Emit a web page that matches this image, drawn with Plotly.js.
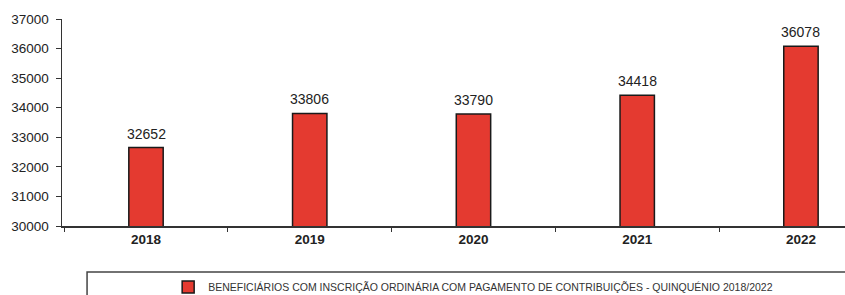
<!DOCTYPE html>
<html>
<head>
<meta charset="utf-8">
<script src="https://cdn.plot.ly/plotly-3.0.1.min.js"></script>
<style>html,body{margin:0;padding:0;background:#fff;}#chart{width:845px;height:295px;}</style>
</head>
<body>
<div id="chart"></div>
<script>
const years = ["2018", "2019", "2020", "2021", "2022"];
const beneficiarios = [32652, 33806, 33790, 34418, 36078];
const seriesName = "BENEFICIÁRIOS COM INSCRIÇÃO ORDINÁRIA COM PAGAMENTO DE CONTRIBUIÇÕES - QUINQUÉNIO 2018/2022";
const yTicks = [30000, 31000, 32000, 33000, 34000, 35000, 36000, 37000];

const FONT = "Liberation Sans, Arial, sans-serif";

const trace = {
  type: "bar",
  x: years,
  y: beneficiarios,
  name: seriesName,
  width: 0.21,
  marker: {color: "#e43a30", line: {color: "#1a1a1a", width: 1.5}},
  hoverinfo: "x+y",
  showlegend: true
};

// value labels above bars (category axis: annotation x is the category index)
const annotations = beneficiarios.map((v, i) => ({
  x: i, y: v, xref: "x", yref: "y",
  text: String(v), showarrow: false,
  yanchor: "bottom", yshift: 4,
  font: {family: FONT, size: 14, color: "#222"}
}));

const layout = {
  width: 845, height: 295,
  margin: {l: 62, r: 0, t: 19, b: 69},
  paper_bgcolor: "#fff", plot_bgcolor: "#fff",
  showlegend: true,
  legend: {
    orientation: "h", xref: "container", yref: "container",
    x: 0.199, xanchor: "left", y: 0.027, yanchor: "middle",
    bgcolor: "rgba(0,0,0,0)", borderwidth: 0, itemwidth: 30,
    font: {family: FONT, size: 10.5, color: "#333"}
  },
  xaxis: {
    type: "category", range: [-0.513, 4.269],
    showline: true, linecolor: "#333", linewidth: 1.5,
    ticks: "outside", tickson: "boundaries", ticklen: 4, tickcolor: "#333", tickwidth: 1,
    showgrid: false, zeroline: false, fixedrange: true,
    tickfont: {family: FONT, size: 13.5, color: "#222", weight: "bold"}
  },
  yaxis: {
    range: [30000, 37000], tickvals: yTicks, ticktext: yTicks.map(String),
    showline: true, linecolor: "#333", linewidth: 1.5,
    ticks: "outside", ticklen: 5, tickcolor: "#333", tickwidth: 1,
    ticklabelstandoff: 4,
    showgrid: false, zeroline: false, fixedrange: true,
    tickfont: {family: FONT, size: 13.5, color: "#222"}
  },
  annotations: annotations,
  shapes: [{
    type: "rect", xref: "paper", yref: "paper",
    x0: 0.032, x1: 1.2, y0: -0.6, y1: -0.222,
    line: {color: "#444", width: 1.5}, fillcolor: "rgba(0,0,0,0)", layer: "below"
  }]
};

Plotly.newPlot("chart", [trace], layout, {staticPlot: true, displayModeBar: false});
</script>
</body>
</html>
